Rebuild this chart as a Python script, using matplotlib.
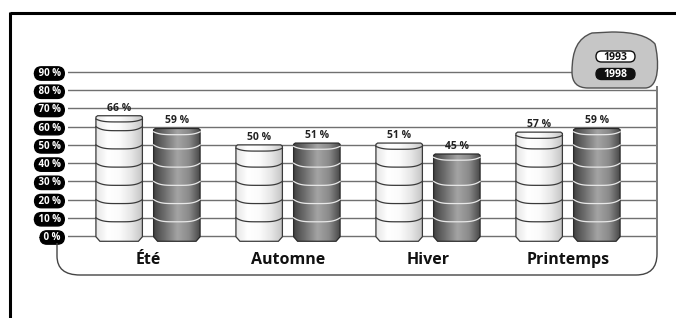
import numpy as np
import matplotlib
matplotlib.use('Agg')
import matplotlib.pyplot as plt
from matplotlib.patches import Polygon, FancyBboxPatch, PathPatch
from matplotlib.path import Path
from matplotlib.colors import LinearSegmentedColormap

plt.rcParams['font.family'] = ['Open Sans', 'DejaVu Sans']

# ---------------------------
# données
# ---------------------------
categories = ['Été', 'Automne', 'Hiver', 'Printemps']
val_1993 = [66, 50, 51, 57]
val_1998 = [59, 51, 45, 59]
years = ['1993', '1998']
y_ticks = [0, 10, 20, 30, 40, 50, 60, 70, 80, 90]
y_labels = [f' {t} % ' for t in y_ticks]

W, H = 676, 318
fig = plt.figure(figsize=(W / 100, H / 100), dpi=100)

# axe principal : y de -5 à 95, 0 % à 236 px, 90 % à 72 px
ppu = (236 - 72) / 90.0
ybot, ytop = -5, 95
ax_bot = 236 + 5 * ppu
ax_top = 72 - 5 * ppu
ax = fig.add_axes([68 / W, (H - ax_bot) / H, 588 / W, (ax_bot - ax_top) / H])
xlim = (-80 / 140, 508 / 140)

cmap93 = LinearSegmentedColormap.from_list('c93', ['#e6e6e6', '#ffffff', '#fbfbfb', '#e6e6e6', '#c4c4c4'])
cmap98 = LinearSegmentedColormap.from_list('c98', ['#444444', '#727272', '#a4a4a4', '#8a8a8a', '#444444'])
grad = np.linspace(0, 1, 256).reshape(1, -1)

half = 0.166
off = 0.206
chx = 4 / 140      # chanfrein du bas
bot = -2.9
sag = 2.2


def cylinder(c, v, cmap, edge, arc_col):
    x0, x1 = c - half, c + half
    pts = [(x0, -0.4), (x0 + chx, bot), (x1 - chx, bot), (x1, -0.4),
           (x1, v - 0.7), (x1 - 0.012, v), (x0 + 0.012, v), (x0, v - 0.7)]
    poly = Polygon(pts, closed=True, fc='none', ec=edge, lw=0.9, zorder=4, clip_on=False)
    ax.add_patch(poly)
    im = ax.imshow(grad, cmap=cmap, extent=(x0, x1, bot, v), aspect='auto',
                   zorder=3, interpolation='bilinear')
    clip = Polygon(pts, closed=True, transform=ax.transData)
    im.set_clip_path(clip)
    xs = np.linspace(x0, x1, 60)
    u = (xs - c) / half
    curve = 1 - u ** 4
    for lev in range(10, 100, 10):
        if lev < v - 5:
            ax.plot(xs, lev - sag * curve, color=arc_col, lw=0.9, zorder=5, clip_on=False)
    # bord avant du dessus
    ax.plot(xs, v - 1.8 - 1.6 * curve, color=arc_col, lw=0.9, zorder=5, clip_on=False)
    ax.text(c, v + 1.2, f'{v} %', ha='center', va='bottom', fontsize=7.5,
            fontweight='bold', color='#222222', zorder=6)


for i in range(len(categories)):
    cylinder(i - off, val_1993[i], cmap93, '#3a3a3a', '#3a3a3a')
    cylinder(i + off, val_1998[i], cmap98, '#2a2a2a', '#e8e8e8')

ax.set_xlim(*xlim)
ax.set_ylim(ybot, ytop)
ax.set_aspect('auto')
ax.patch.set_visible(False)
for s in ax.spines.values():
    s.set_visible(False)
ax.set_yticks(y_ticks)
ax.set_yticklabels(y_labels)
ax.yaxis.grid(True, color='#707070', lw=1.0)
ax.set_axisbelow(True)
ax.tick_params(axis='y', length=0, pad=3.5)
for t in ax.get_yticklabels():
    t.set_color('white')
    t.set_fontsize(7)
    t.set_fontweight('bold')
    t.set_bbox(dict(boxstyle='round,pad=0.12,rounding_size=0.7', fc='black', ec='black'))
ax.set_xticks(range(len(categories)))
ax.set_xticklabels(categories, fontsize=11.5, fontweight='bold', color='#111111')
ax.tick_params(axis='x', length=0, pad=5)

# ---------------------------
# décor (cadre, panneau, légende) en pixels
# ---------------------------
deco = fig.add_axes([0, 0, 1, 1], zorder=5)
deco.set_xlim(0, W)
deco.set_ylim(H, 0)
deco.axis('off')
deco.patch.set_visible(False)

deco.plot([9.5, W], [13, 13], color='black', lw=2.2, solid_capstyle='butt')
deco.plot([10, 10], [12, H], color='black', lw=2.2, solid_capstyle='butt')

panel = Path([(57, 243), (57, 256), (57, 275), (80, 275), (636, 275),
              (657, 275), (657, 254), (657, 86)],
             [Path.MOVETO, Path.LINETO, Path.CURVE3, Path.CURVE3, Path.LINETO,
              Path.CURVE3, Path.CURVE3, Path.LINETO])
deco.add_patch(PathPatch(panel, fc='none', ec='#444444', lw=1.0))

blob = Path([(588, 88), (572, 88), (572, 72), (572, 50), (578, 38), (592, 33), (612, 32),
             (634, 32), (648, 36), (655, 44), (659, 60), (660, 88), (645, 88), (588, 88)],
            [Path.MOVETO, Path.CURVE3, Path.CURVE3, Path.CURVE4, Path.CURVE4, Path.CURVE4,
             Path.LINETO, Path.CURVE4, Path.CURVE4, Path.CURVE4, Path.CURVE4, Path.CURVE4,
             Path.CURVE4, Path.CLOSEPOLY])
deco.add_patch(PathPatch(blob, fc='#c6c6c6', ec='#505050', lw=1.0))

leg_y = [56.5, 74]
leg_fc = ['white', '#111111']
leg_tc = ['#111111', 'white']
for yr, yy, fc, tc in zip(years, leg_y, leg_fc, leg_tc):
    deco.add_patch(FancyBboxPatch((596, yy - 5.5), 39, 11,
                                  boxstyle='round,pad=0,rounding_size=5.5',
                                  fc=fc, ec='#111111', lw=1.0))
    deco.text(615.5, yy + 0.5, yr, ha='center', va='center', fontsize=7.5,
              fontweight='bold', color=tc)

fig.savefig('out.png', dpi=100)
